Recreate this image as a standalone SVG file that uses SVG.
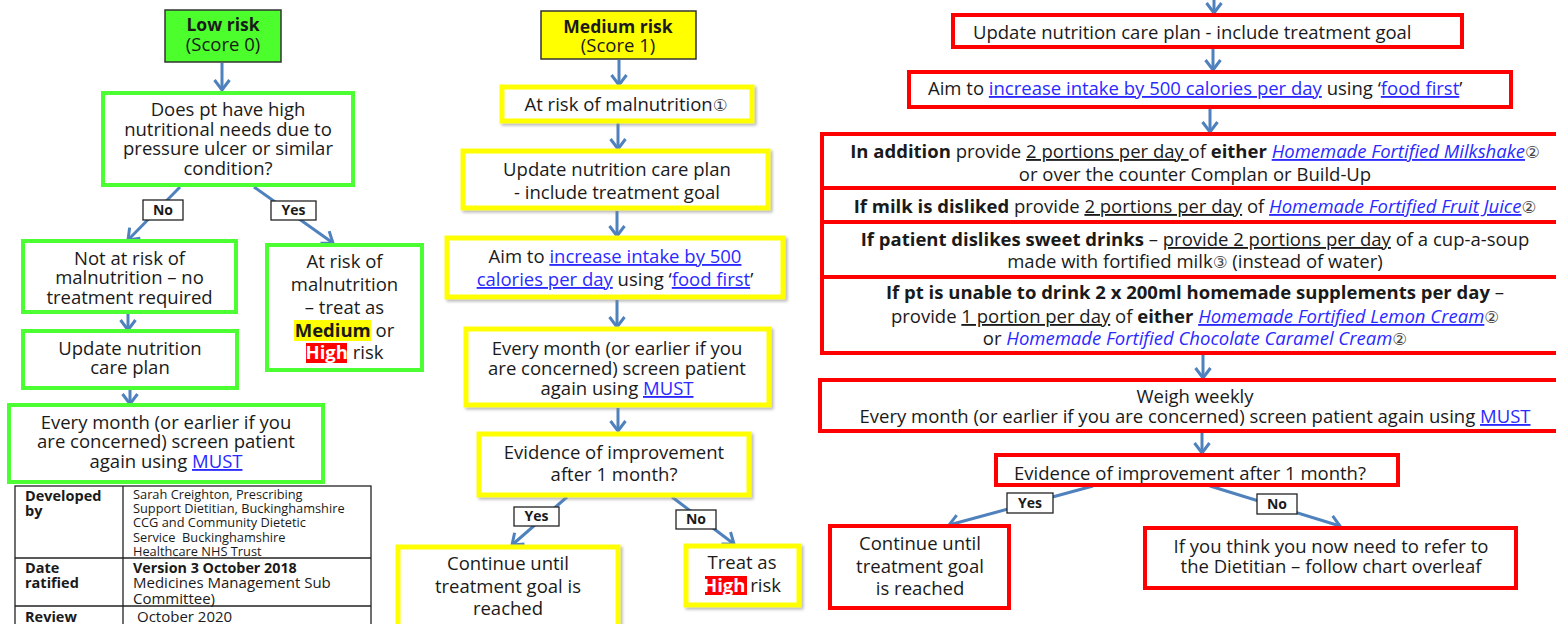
<svg xmlns="http://www.w3.org/2000/svg" width="1556" height="624" viewBox="0 0 1556 624">
<style>
.t{font-family:'Open Sans','DejaVu Sans',sans-serif;font-size:18.5px;fill:#1a1a1a;text-anchor:middle}
.s{text-anchor:start}
.b{font-weight:bold}
.lk{fill:#2a2aff;text-decoration:underline}
.bl{fill:#2a2aff}
.it{font-style:italic}
.u{text-decoration:underline}
.c{font-size:16.5px;fill:#444}
.g{fill:#fff;stroke:#4cff33;stroke-width:4}
.y{fill:#fff;stroke:#ffff00;stroke-width:5;filter:url(#sh)}
.r{fill:#fff;stroke:#ff0000;stroke-width:4}
.rs{fill:none;stroke:#ff0000;stroke-width:4}
.lbl{fill:#fff;stroke:#222;stroke-width:1.3}
.lt{font-size:14px;font-weight:bold}
.conn{stroke:#4f81bd;stroke-width:3;fill:none;marker-end:url(#ah)}
.tb{fill:none;stroke:#222;stroke-width:1.3}
.tt{font-family:'Open Sans','DejaVu Sans',sans-serif;fill:#1a1a1a}
</style>
<defs>
<marker id="ah" markerUnits="userSpaceOnUse" viewBox="0 0 14 18" markerWidth="14" markerHeight="18" refX="12" refY="9" orient="auto">
<path d="M2,1.5 L12,9 L2,16.5" fill="none" stroke="#4f81bd" stroke-width="3"/>
</marker>
<filter id="sh" x="-5%" y="-10%" width="115%" height="130%">
<feDropShadow dx="2" dy="2" stdDeviation="1.5" flood-color="#888" flood-opacity="0.6"/>
</filter>
</defs>
<rect width="1556" height="624" fill="#fff"/>

<g id="connectors">
<line class="conn" x1="222" y1="63" x2="222" y2="90"/>
<line class="conn" x1="180" y1="187" x2="128" y2="240"/>
<line class="conn" x1="254" y1="187" x2="333" y2="243"/>
<line class="conn" x1="128" y1="314" x2="128" y2="330"/>
<line class="conn" x1="130" y1="390" x2="130" y2="404"/>
<line class="conn" x1="619" y1="60" x2="619" y2="85"/>
<line class="conn" x1="618" y1="123" x2="618" y2="149"/>
<line class="conn" x1="617" y1="211" x2="617" y2="236"/>
<line class="conn" x1="617" y1="300" x2="617" y2="327"/>
<line class="conn" x1="618" y1="408" x2="618" y2="431"/>
<line class="conn" x1="567" y1="497" x2="512" y2="545"/>
<line class="conn" x1="672" y1="497" x2="734" y2="544"/>
<line class="conn" x1="1214" y1="0" x2="1214" y2="13"/>
<line class="conn" x1="1213" y1="49" x2="1213" y2="70"/>
<line class="conn" x1="1210" y1="109" x2="1210" y2="132"/>
<line class="conn" x1="1203" y1="355" x2="1203" y2="378"/>
<line class="conn" x1="1202" y1="433" x2="1202" y2="453"/>
<line class="conn" x1="1093" y1="486" x2="949" y2="525"/>
<line class="conn" x1="1210" y1="486" x2="1340" y2="526"/>
</g>

<g id="labels">
<rect class="lbl" x="143" y="200" width="40" height="20"/>
<text class="t lt" x="163" y="215">No</text>
<rect class="lbl" x="271" y="201" width="45" height="19"/>
<text class="t lt" x="293.5" y="215">Yes</text>
<rect class="lbl" x="514" y="507" width="45" height="19"/>
<text class="t lt" x="536.5" y="521">Yes</text>
<rect class="lbl" x="676" y="510" width="40" height="19"/>
<text class="t lt" x="696" y="524">No</text>
<rect class="lbl" x="1007" y="493" width="46" height="20"/>
<text class="t lt" x="1030" y="508">Yes</text>
<rect class="lbl" x="1257" y="494" width="40" height="20"/>
<text class="t lt" x="1277" y="509">No</text>
</g>

<!-- Left column -->
<g id="low-risk">
<rect x="165" y="10" width="116" height="52" fill="#4cff2c" stroke="#333" stroke-width="1.5"/>
<text class="t b" x="223" y="31" style="font-size:17.5px">Low risk</text>
<text class="t" x="223" y="51">(Score 0)</text>
</g>
<g id="low-question">
<rect class="g" x="103" y="93" width="250" height="92"/>
<text class="t" x="228" y="116">Does pt have high</text>
<text class="t" x="228" y="136">nutritional needs due to</text>
<text class="t" x="228" y="155">pressure ulcer or similar</text>
<text class="t" x="228" y="175">condition?</text>
</g>
<g id="low-not-at-risk">
<rect class="g" x="23" y="241" width="213" height="71"/>
<text class="t" x="129.5" y="265">Not at risk of</text>
<text class="t" x="129.5" y="284">malnutrition – no</text>
<text class="t" x="129.5" y="304">treatment required</text>
</g>
<g id="low-at-risk">
<rect class="g" x="267" y="245" width="155" height="125"/>
<rect x="294" y="320" width="77" height="21" fill="#ffff00"/>
<rect x="306" y="343" width="41" height="20" fill="#ff0000"/>
<text class="t" x="344.5" y="268">At risk of</text>
<text class="t" x="344.5" y="291">malnutrition</text>
<text class="t" x="344.5" y="314">– treat as</text>
<text class="t" x="344.5" y="337"><tspan class="b">Medium</tspan> or</text>
<text class="t" x="344.5" y="359"><tspan class="b" fill="#fff">High</tspan> risk</text>
</g>
<g id="low-update">
<rect class="g" x="23" y="331" width="214" height="57"/>
<text class="t" x="130" y="355">Update nutrition</text>
<text class="t" x="130" y="374">care plan</text>
</g>
<g id="low-monthly">
<rect class="g" x="9" y="405" width="314" height="77"/>
<text class="t" x="166" y="429">Every month (or earlier if you</text>
<text class="t" x="166" y="448">are concerned) screen patient</text>
<text class="t" x="166" y="468">again using <tspan class="lk">MUST</tspan></text>
</g>
<g id="info-table">
<rect class="tb" x="15" y="486" width="356" height="150"/>
<line class="tb" x1="123" y1="486" x2="123" y2="630"/>
<line class="tb" x1="15" y1="558" x2="371" y2="558"/>
<line class="tb" x1="15" y1="606" x2="371" y2="606"/>
<text class="tt" x="25" y="501" font-size="14.5" font-weight="bold">Developed</text>
<text class="tt" x="25" y="516" font-size="14.5" font-weight="bold">by</text>
<text class="tt" x="133" y="498.5" font-size="12.8" fill="#2e2340">Sarah Creighton, Prescribing</text>
<text class="tt" x="133" y="512.5" font-size="12.8" fill="#2e2340">Support Dietitian, Buckinghamshire</text>
<text class="tt" x="133" y="526.5" font-size="12.8" fill="#2e2340">CCG and Community Dietetic</text>
<text class="tt" x="133" y="541.5" font-size="12.8" fill="#2e2340">Service&#160; Buckinghamshire</text>
<text class="tt" x="133" y="556" font-size="12.8" fill="#2e2340">Healthcare NHS Trust</text>
<text class="tt" x="25" y="573" font-size="14.5" font-weight="bold">Date</text>
<text class="tt" x="25" y="588" font-size="14.5" font-weight="bold">ratified</text>
<text class="tt" x="133" y="573" font-size="14.3" font-weight="bold">Version 3 October 2018</text>
<text class="tt" x="133" y="588" font-size="15">Medicines Management Sub</text>
<text class="tt" x="133" y="604" font-size="15">Committee)</text>
<text class="tt" x="25" y="622" font-size="14.5" font-weight="bold">Review</text>
<text class="tt" x="137" y="622" font-size="15">October 2020</text>
</g>

<!-- Middle column -->
<g id="med-risk">
<rect x="541" y="11" width="155" height="48" fill="#ffff00" stroke="#333" stroke-width="1.5"/>
<text class="t b" x="618" y="33" style="font-size:17.5px">Medium risk</text>
<text class="t" x="618" y="52">(Score 1)</text>
</g>
<g id="med-at-risk">
<rect class="y" x="502" y="87" width="250" height="34"/>
<text class="t" x="626" y="111">At risk of malnutrition<tspan class="c">①</tspan></text>
</g>
<g id="med-update">
<rect class="y" x="463" y="151" width="305" height="57"/>
<text class="t" x="617" y="176">Update nutrition care plan</text>
<text class="t" x="617" y="199">- include treatment goal</text>
</g>
<g id="med-aim">
<rect class="y" x="447" y="238" width="336" height="59"/>
<text class="t" x="615" y="263">Aim to <tspan class="lk">increase intake by 500</tspan></text>
<text class="t" x="615" y="286"><tspan class="lk">calories per day</tspan> using ‘<tspan class="lk">food first</tspan>’</text>
</g>
<g id="med-monthly">
<rect class="y" x="466" y="329" width="303" height="76"/>
<text class="t" x="617" y="355">Every month (or earlier if you</text>
<text class="t" x="617" y="375">are concerned) screen patient</text>
<text class="t" x="617" y="395">again using <tspan class="lk">MUST</tspan></text>
</g>
<g id="med-evidence">
<rect class="y" x="479" y="434" width="270" height="61"/>
<text class="t" x="614" y="459">Evidence of improvement</text>
<text class="t" x="614" y="481">after 1 month?</text>
</g>
<g id="med-continue">
<rect class="y" x="398" y="547" width="220" height="95"/>
<text class="t" x="508" y="570">Continue until</text>
<text class="t" x="508" y="593">treatment goal is</text>
<text class="t" x="508" y="615">reached</text>
</g>
<g id="med-treat-high">
<rect class="y" x="686" y="546" width="113" height="59"/>
<rect x="705" y="576" width="42" height="19" fill="#ff0000"/>
<text class="t" x="742" y="569">Treat as</text>
<text class="t" x="742" y="592"><tspan class="b" fill="#fff">High</tspan> risk</text>
</g>

<!-- Right column -->
<g id="high-update">
<rect class="r" x="953" y="15" width="509" height="32"/>
<text class="t s" x="973" y="39">Update nutrition care plan - include treatment goal</text>
</g>
<g id="high-aim">
<rect class="r" x="909" y="72" width="602" height="35"/>
<text class="t s" x="928" y="95">Aim to <tspan class="lk">increase intake by 500 calories per day</tspan> using ‘<tspan class="lk">food first</tspan>’</text>
</g>
<g id="high-options">
<rect class="r" x="822" y="134" width="748" height="54"/>
<rect class="r" x="822" y="188" width="748" height="34"/>
<rect class="r" x="822" y="222" width="748" height="55"/>
<rect class="r" x="822" y="277" width="748" height="76"/>
<text class="t" x="1195" y="158"><tspan class="b">In addition</tspan> provide <tspan class="u">2 portions per day </tspan>of <tspan class="b">either</tspan> <tspan class="lk it">Homemade Fortified Milkshake</tspan><tspan class="c">②</tspan></text>
<text class="t" x="1195" y="181">or over the counter Complan or Build-Up</text>
<text class="t" x="1195" y="213"><tspan class="b">If milk is disliked</tspan> provide <tspan class="u">2 portions per day</tspan> of <tspan class="lk it">Homemade Fortified Fruit Juice</tspan><tspan class="c">②</tspan></text>
<text class="t" x="1195" y="246"><tspan class="b">If patient dislikes sweet drinks</tspan> – <tspan class="u">provide 2 portions per day</tspan> of a cup-a-soup</text>
<text class="t" x="1195" y="268">made with fortified milk<tspan class="c">③</tspan> (instead of water)</text>
<text class="t" x="1195" y="299"><tspan class="b">If pt is unable to drink 2 x 200ml homemade supplements per day</tspan> –</text>
<text class="t" x="1195" y="323">provide <tspan class="u">1 portion per day</tspan> of <tspan class="b">either</tspan> <tspan class="lk it">Homemade Fortified Lemon Cream</tspan><tspan class="c">②</tspan></text>
<text class="t" x="1195" y="345">or <tspan class="bl it">Homemade Fortified Chocolate Caramel Cream</tspan><tspan class="c">②</tspan></text>
</g>
<g id="high-weigh">
<rect class="r" x="820" y="380" width="760" height="51"/>
<text class="t" x="1195" y="403">Weigh weekly</text>
<text class="t" x="1195" y="423">Every month (or earlier if you are concerned) screen patient again using <tspan class="lk">MUST</tspan></text>
</g>
<g id="high-evidence">
<rect x="996" y="455" width="402" height="30" fill="#fff"/>
<text class="t s" x="1014" y="480">Evidence of improvement after 1 month?</text>
<rect class="rs" x="996" y="455" width="402" height="30"/>
</g>
<g id="high-continue">
<rect class="r" x="830" y="526" width="179" height="82"/>
<text class="t" x="920" y="550">Continue until</text>
<text class="t" x="920" y="573">treatment goal</text>
<text class="t" x="920" y="595">is reached</text>
</g>
<g id="high-refer">
<rect class="r" x="1145" y="528" width="371" height="60"/>
<text class="t" x="1331" y="553">If you think you now need to refer to</text>
<text class="t" x="1331" y="573">the Dietitian – follow chart overleaf</text>
</g>
</svg>
